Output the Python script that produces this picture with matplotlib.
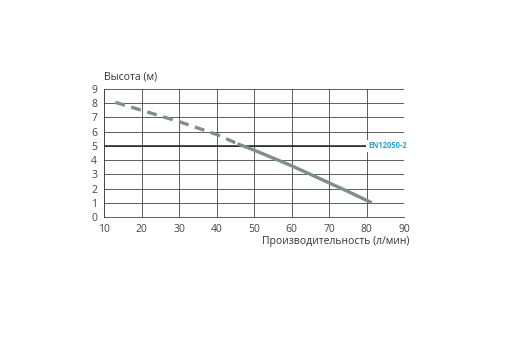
import matplotlib
matplotlib.use("Agg")
import matplotlib.pyplot as plt

# pump curve: flow (l/min) vs head (m)
flow_dashed = [13, 20, 30, 40, 46]
head_dashed = [8.05, 7.5, 6.7, 5.8, 5.1]
flow_solid = [46, 50, 55, 60, 65, 70, 75, 81]
head_solid = [5.1, 4.7, 4.15, 3.6, 3.0, 2.4, 1.8, 1.05]
norm_level = 5
norm_label = "EN12050-2"
x_ticks = [10, 20, 30, 40, 50, 60, 70, 80, 90]
y_ticks = [0, 1, 2, 3, 4, 5, 6, 7, 8, 9]

plt.rcParams["font.family"] = ["Open Sans", "DejaVu Sans"]

fig = plt.figure(figsize=(5.05, 3.54), dpi=100)
ax = fig.add_axes([0.206, 0.387, 0.594, 0.362])

curve_color = "#7d8e8e"
ax.plot(flow_dashed, head_dashed, color=curve_color, lw=2.4, ls=(0, (3, 2)),
        solid_capstyle="butt", zorder=3)
ax.plot(flow_solid, head_solid, color=curve_color, lw=2.4, zorder=3)

ax.axhline(norm_level, color="#222222", lw=1.1, zorder=2)
ax.text(80.4, norm_level, norm_label, color="#2aa3d8", fontsize=5.5,
        fontweight="bold", va="center", ha="left", zorder=4,
        bbox=dict(facecolor="white", edgecolor="none", pad=1.2))

ax.set_xlim(10, 90)
ax.set_ylim(0, 9)
ax.set_xticks(x_ticks)
ax.set_yticks(y_ticks)
ax.grid(True, color="#444444", lw=0.6)
for side in ["top", "right"]:
    ax.spines[side].set_visible(False)
for side in ["left", "bottom"]:
    ax.spines[side].set_color("#444444")
    ax.spines[side].set_linewidth(0.6)
ax.tick_params(length=0, labelsize=7.5, colors="#444444", pad=5)

fig.text(0.206, 0.782, "Высота (м)", fontsize=7.5, color="#333333",
         ha="left", va="center")
fig.text(0.81, 0.318, "Производительность (л/мин)", fontsize=7.5,
         color="#333333", ha="right", va="center")

fig.savefig("out.png", dpi=100)
